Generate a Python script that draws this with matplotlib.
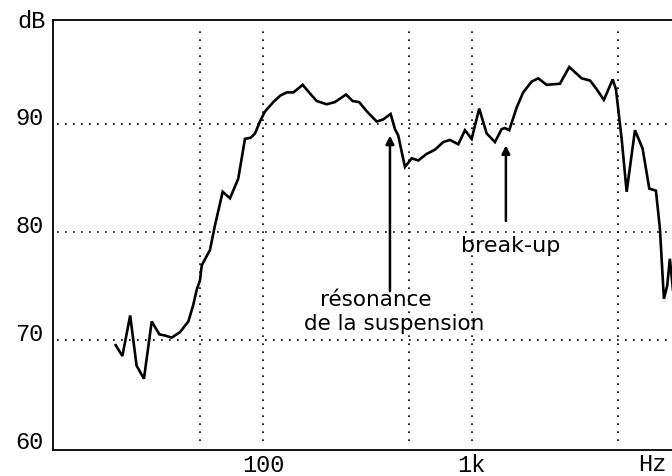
import matplotlib.pyplot as plt
import matplotlib.transforms as mtransforms


# frequency response (Hz, dB)
freq_hz = [19.7, 21.2, 23.1, 24.8, 26.9, 29.3, 31.9, 33.9, 36.5, 40.0,
           43.9, 46.3, 48.1, 49.9, 50.9, 55.7, 58.9, 64.1, 69.5, 76.1,
           82.0, 87.3, 91.6, 96.7, 102, 112, 121, 130, 140, 155,
           168, 181, 202, 221, 250, 269, 289, 316, 351, 377,
           409, 429, 445, 462, 479, 516, 555, 608, 667, 731,
           787, 863, 929, 1000, 1087, 1180, 1293, 1392, 1444, 1514,
           1643, 1766, 1939, 2085, 2286, 2648, 2936, 3365, 3690, 3970,
           4300, 4740, 4913, 5233, 5530, 6060, 6594, 7096, 7638, 7980,
           8340, 8650, 8910, 9310]
level_db = [69.5, 68.5, 72.25, 67.6, 66.4, 71.7, 70.5, 70.4, 70.2, 70.7,
            71.7, 73.2, 74.6, 75.5, 76.9, 78.3, 80.6, 83.7, 83.1, 84.9,
            88.6, 88.7, 89.1, 90.2, 91.1, 92.0, 92.6, 92.9, 92.9, 93.6,
            92.8, 92.1, 91.8, 92.0, 92.7, 92.1, 92.0, 91.1, 90.2, 90.4,
            90.9, 89.5, 88.9, 87.4, 86.0, 86.8, 86.6, 87.2, 87.6, 88.3,
            88.5, 88.1, 89.4, 88.6, 91.4, 89.1, 88.3, 89.5, 89.6, 89.4,
            91.5, 92.9, 93.9, 94.2, 93.6, 93.7, 95.25, 94.2, 94.0, 93.2,
            92.2, 94.1, 93.2, 88.6, 83.7, 89.4, 87.7, 84.0, 83.8, 80.3,
            73.8, 75.0, 77.5, 73.8]

grid_freqs = [50, 100, 500, 1000, 5000]
grid_levels = [70, 80, 90]
y_ticks = [60, 70, 80, 90]
x_ticks = [100, 1000]
x_tick_labels = ["100", "1k"]

# arrows: (x, bottom, tip)
resonance_arrow = (406, 74.5, 88.9)
breakup_arrow = (1459, 81.0, 88.0)

MONO = "Liberation Mono"
HAND = "DejaVu Sans"


def main():
    fig = plt.figure(figsize=(6.72, 4.77), dpi=100)
    ax = fig.add_axes([53 / 672, 26 / 477, 619 / 672, 430 / 477])

    ax.set_xscale("log")
    ax.set_xlim(9.86, 9120)
    ax.set_ylim(59.8, 99.6)

    dots = (0, (1, 3.8))
    for f in grid_freqs:
        ax.axvline(f, ymin=0.02, ymax=0.985, color="black", lw=1.2, linestyle=dots)
    for lvl in grid_levels:
        ax.axhline(lvl, xmin=0.006, xmax=1.0, color="black", lw=1.2, linestyle=dots)

    ax.plot(freq_hz, level_db, color="black", lw=1.9, solid_joinstyle="miter")

    for x, y0, y1 in (resonance_arrow, breakup_arrow):
        ax.annotate("", xy=(x, y1), xytext=(x, y0),
                    arrowprops=dict(arrowstyle="-|>", lw=1.8, color="black",
                                    mutation_scale=12, shrinkA=0, shrinkB=0))

    ax.text(348, 73.8, "résonance", family=HAND, fontsize=15.5, ha="center", va="center")
    ax.text(424, 71.6, "de la suspension", family=HAND, fontsize=15.5, ha="center", va="center")
    ax.text(1543, 78.8, "break-up", family=HAND, fontsize=16, ha="center", va="center")

    ax.set_xticks(x_ticks)
    ax.set_xticklabels(x_tick_labels)
    ax.xaxis.set_minor_locator(plt.NullLocator())
    ax.set_yticks(y_ticks)
    ax.set_yticklabels([str(v) for v in y_ticks])
    ax.tick_params(length=0, labelsize=17)
    ax.tick_params(axis="y", pad=7)
    ax.tick_params(axis="x", pad=2)
    for lab in ax.get_xticklabels() + ax.get_yticklabels():
        lab.set_family(MONO)

    shift = mtransforms.ScaledTranslation(0, 9 / 100, fig.dpi_scale_trans)
    for lab in ax.get_yticklabels():
        lab.set_transform(lab.get_transform() + shift)

    ax.annotate("dB", xy=(0, 1), xycoords="axes fraction", xytext=(-7, 0),
                textcoords="offset pixels", ha="right", va="center",
                family=MONO, fontsize=17)
    ax.annotate("Hz", xy=(0.968, 0), xycoords="axes fraction", xytext=(0, -14),
                textcoords="offset pixels", ha="center", va="center",
                family=MONO, fontsize=17)

    ax.spines["right"].set_visible(False)
    for side in ("left", "bottom", "top"):
        ax.spines[side].set_linewidth(1.3)

    fig.savefig("out.png", dpi=100)
    plt.close(fig)


if __name__ == "__main__":
    main()
